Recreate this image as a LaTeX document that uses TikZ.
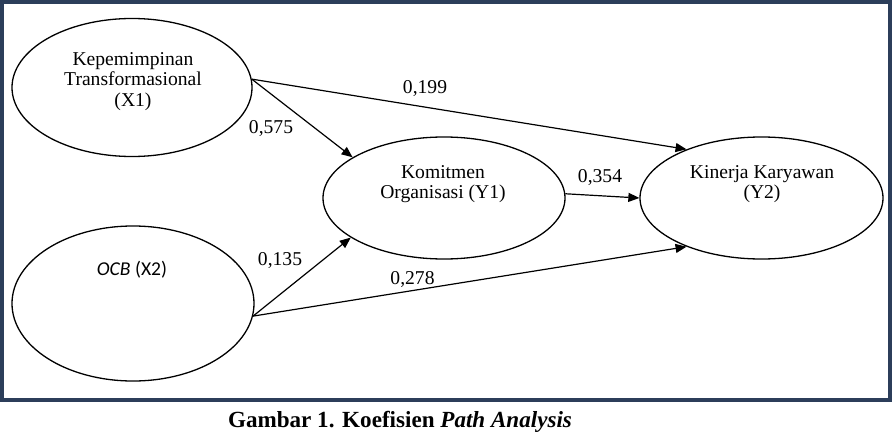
\documentclass[tikz,border=0pt]{standalone}
\usepackage{fontspec}
\setmainfont{Liberation Serif}
\newfontfamily\calibrifont{Carlito}
\usepackage[dvipsnames]{xcolor}
\usetikzlibrary{arrows.meta,shapes.geometric}
\definecolor{framenavy}{RGB}{44,62,90}

\begin{document}
\begin{tikzpicture}[x=1pt,y=-1pt,
  latent/.style={draw,ellipse,line width=1.3pt,inner sep=0pt},
  latenttext/.style={align=center,font=\fontsize{19.6}{20.5}\selectfont},
  effect/.style={line width=1.2pt,-{Triangle[length=11pt,width=9pt]}},
  coef/.style={anchor=base,font=\fontsize{19.6}{20}\selectfont}]

\useasboundingbox (0,0) rectangle (892,436);

%%% FRAME %%%
\draw[framenavy,line width=4pt] (2,1.8) rectangle (890.2,399.8);

%%% VARIABLES %%%
\node[latent,minimum width=240,minimum height=138] (x1) at (132,87.5) {};
\node[latent,minimum width=242,minimum height=155] (x2) at (133,303.5) {};
\node[latent,minimum width=242,minimum height=122] (y1) at (444,198) {};
\node[latent,minimum width=243,minimum height=122] (y2) at (761.5,198) {};

\node[latenttext] (x1text) at (133,81.3) {Kepemimpinan\\Transformasional\\(X1)};
\node[latenttext,anchor=base,font=\calibrifont\fontsize{19.6}{20}\selectfont] (x2text) at (132,275) {\textit{OCB} (X2)};
\node[latenttext] (y1text) at (443,184) {Komitmen\\Organisasi (Y1)};
\node[latenttext] (y2text) at (762,184) {Kinerja Karyawan\\(Y2)};

%%% PATHS %%%
\draw[effect] (x1.4) -- (y1.156);
\draw[effect] (x1.4) -- (y2.147);
\draw[effect] (y1.2) -- (y2.180);
\draw[effect] (x2.-6) -- (y1.203);
\draw[effect] (x2.-6) -- (y2.213);

%%% COEFFICIENTS %%%
\node[coef] (b11) at (271,133) {0,575};
\node[coef] (b12) at (425,93) {0,199};
\node[coef] (b13) at (600,182) {0,354};
\node[coef] (b21) at (280,265) {0,135};
\node[coef] (b22) at (412.5,284) {0,278};

%%% CAPTION %%%
\node[anchor=base,font=\bfseries\fontsize{23.1}{26}\selectfont] (caption) at (400,427)
  {Gambar 1. Koefisien \textit{Path Analysis}};

\end{tikzpicture}
\end{document}
